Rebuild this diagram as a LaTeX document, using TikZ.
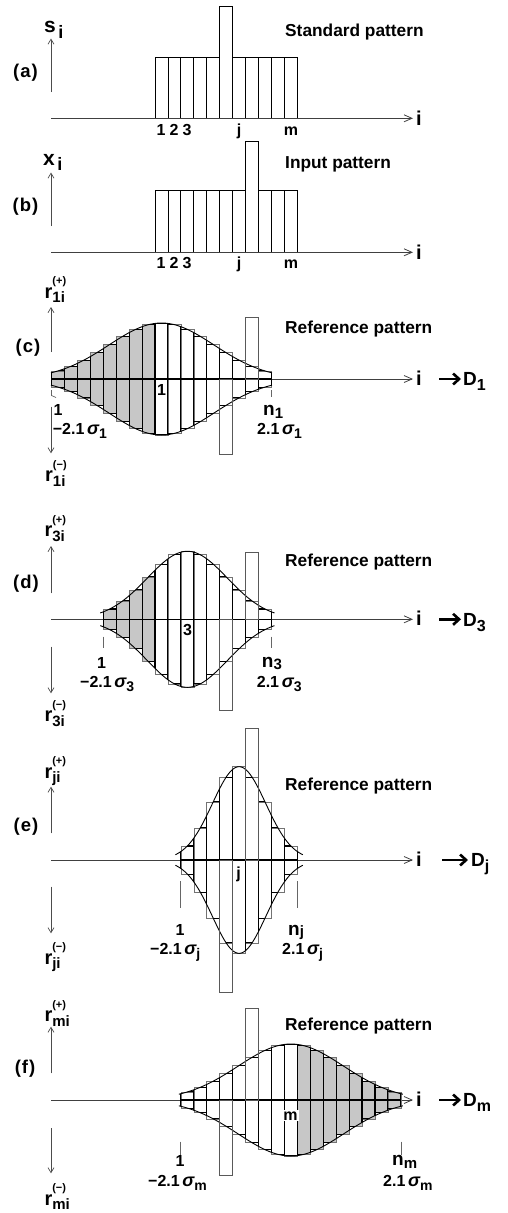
\documentclass[tikz,border=0pt]{standalone}
\usepackage{fontspec}
\setmainfont{Liberation Sans}
\usetikzlibrary{arrows.meta}
\newcommand\fs[1]{\fontsize{#1}{#1}\selectfont}
\def\bw{12.94}
\def\xone{155}
\newcommand\rlab[2]{{\fs{20}r}\raisebox{-4.5pt}{\fs{15}\rlap{\raisebox{18pt}{\fs{11}#2}}#1}}
\newcommand\sig[1]{{\fs{18}\itshape σ}\raisebox{-4pt}{\fs{14}#1}}
\tikzset{
  barline/.style={draw=black, line width=0.8pt},
  thinbar/.style={draw=black!55, line width=0.6pt},
  inbar/.style={draw=black, line width=1.1pt},
  env/.style={draw=black, line width=0.9pt},
  shadefill/.style={fill=black!22},
  tallbar/.style={draw=black!65, line width=0.7pt},
  axisline/.style={draw=black!75, line width=0.8pt, -{Straight Barb[length=8pt,width=7pt]}},
  varrow/.style={draw=black!70, line width=0.7pt, -{Straight Barb[length=5pt,width=6pt]}},
  tick/.style={draw=black!60, line width=0.7pt},
  bigarrow/.style={draw=black, line width=2.6pt, -{Straight Barb[length=6pt,width=11pt]}},
  txt/.style={inner sep=0pt, font=\bfseries},
  title/.style={txt, anchor=base west, font=\bfseries\fs{17.3}},
  plab/.style={txt, font=\bfseries\fs{18.5}},
  num/.style={txt, anchor=base, font=\bfseries\fs{16}},
  lbl/.style={txt, anchor=base west, font=\bfseries\fs{16}},
  axlab/.style={txt, anchor=base, font=\bfseries\fs{20}},
}
\newcommand\RefPanel[6]{%
  \pgfmathsetmacro\ya{#1}%
  \pgfmathsetmacro\xc{\xone+\bw*(#2-0.5)}%
  \pgfmathsetmacro\xl{\xc-(#3+0.5)*\bw-#6}%
  \pgfmathsetmacro\xr{\xc+(#3+0.5)*\bw+#6}%
  \def\HH{#4}\def\SS{#5}%
  \pgfmathtruncatemacro\kmin{#2-#3}%
  \pgfmathtruncatemacro\kmax{#2+#3}%
  \foreach \k in {\kmin,...,\kmax}{%
    \pgfmathsetmacro\xa{\xone+\bw*(\k-1)}%
    \pgfmathsetmacro\xb{\xa+\bw}%
    \pgfmathsetmacro\tq{(\xa+0.5*\bw-\xc)/\SS}%
    \pgfmathsetmacro\hh{\HH*exp(-0.5*(\tq)*(\tq))}%
    \ifnum\k<1 \fill[shadefill] (\xa,\ya-\hh) rectangle (\xb,\ya+\hh);\fi
    \ifnum\k>11 \fill[shadefill] (\xa,\ya-\hh) rectangle (\xb,\ya+\hh);\fi
    \draw[thinbar] (\xa,\ya) rectangle (\xb,\ya-\hh) (\xa,\ya) rectangle (\xb,\ya+\hh);
  }%
  \begin{scope}
    \clip plot[domain=\xl:\xr,samples=81] (\x,{\ya-\HH*exp(-0.5*((\x-\xc)/\SS)*((\x-\xc)/\SS))})
      -- plot[domain=\xr:\xl,samples=81] (\x,{\ya+\HH*exp(-0.5*((\x-\xc)/\SS)*((\x-\xc)/\SS))}) -- cycle;
    \foreach \k in {\kmin,...,\kmax}{%
      \pgfmathsetmacro\xa{\xone+\bw*(\k-1)}%
      \pgfmathsetmacro\xb{\xa+\bw}%
      \pgfmathsetmacro\tq{(\xa+0.5*\bw-\xc)/\SS}%
      \pgfmathsetmacro\hh{\HH*exp(-0.5*(\tq)*(\tq))}%
      \draw[inbar] (\xa,\ya) rectangle (\xb,\ya-\hh) (\xa,\ya) rectangle (\xb,\ya+\hh);
    }%
  \end{scope}
  \draw[env] plot[domain=\xl:\xr,samples=81] (\x,{\ya-\HH*exp(-0.5*((\x-\xc)/\SS)*((\x-\xc)/\SS))});
  \draw[env] plot[domain=\xl:\xr,samples=81] (\x,{\ya+\HH*exp(-0.5*((\x-\xc)/\SS)*((\x-\xc)/\SS))});
}
\begin{document}
\begin{tikzpicture}[x=1pt,y=-1pt]
\useasboundingbox (0,0) rectangle (507,1213);
% ---------------- (a)
\coordinate (a-v0) at (51,92); \coordinate (a-v1) at (51,38.5);
\draw[varrow] (a-v0) -- (a-v1);
\node[txt,anchor=base west] (a-s) at (44,32.7) {{\fs{21}s}\raisebox{-5.5pt}{\fs{18}\kern2.5pt i}};
\node[plab] (a-lab) at (25.5,73) {(\kern1pt a\kern1pt)};
\node[title] (a-title) at (285,36) {Standard pattern};
\foreach \k in {1,...,11}{%
  \pgfmathsetmacro\xa{\xone+\bw*(\k-1)}%
  \pgfmathsetmacro\ytop{\k==6 ? 6.7 : 57.3}%
  \draw[barline] (\xa,118.3) rectangle ({\xa+\bw},\ytop);
}
\coordinate (a-o) at (51,118.3); \coordinate (a-e) at (413,118.3);
\draw[axisline] (a-o) -- (a-e);
\node[axlab] (a-i) at (419,125) {i};
\node[num] (a-n1) at (161,135) {1};
\node[num] (a-n2) at (174,135) {2};
\node[num] (a-n3) at (187,135) {3};
\node[num] (a-nj) at (239,135) {j};
\node[num] (a-nm) at (291,135) {m};
% ---------------- (b)
\coordinate (b-v0) at (51,226); \coordinate (b-v1) at (51,172.5);
\draw[varrow] (b-v0) -- (b-v1);
\node[txt,anchor=base west] (b-x) at (43,165) {{\fs{21}x}\raisebox{-5.5pt}{\fs{18}\kern2.5pt i}};
\node[plab] (b-lab) at (25.5,206.7) {(\kern1pt b\kern1pt)};
\node[title] (b-title) at (285,168.3) {Input pattern};
\foreach \k in {1,...,11}{%
  \pgfmathsetmacro\xa{\xone+\bw*(\k-1)}%
  \pgfmathsetmacro\ytop{\k==8 ? 141 : 190.7}%
  \draw[barline] (\xa,252.3) rectangle ({\xa+\bw},\ytop);
}
\coordinate (b-o) at (51,252.3); \coordinate (b-e) at (413,252.3);
\draw[axisline] (b-o) -- (b-e);
\node[axlab] (b-i) at (419,259) {i};
\node[num] (b-n1) at (161,268.3) {1};
\node[num] (b-n2) at (174,268.3) {2};
\node[num] (b-n3) at (187,268.3) {3};
\node[num] (b-nj) at (239,268.3) {j};
\node[num] (b-nm) at (291,268.3) {m};
% ---------------- (c)
\coordinate (c-o) at (51,379); \coordinate (c-e) at (413,379);
\draw[axisline] (c-o) -- (c-e);
\RefPanel{379}{1}{8}{56}{52.6}{0.5}
\draw[tallbar] ({\xone+\bw*7},379) rectangle ({\xone+\bw*8},317.3);
\draw[tallbar] ({\xone+\bw*5},379) rectangle ({\xone+\bw*6},454.3);
\node[axlab] (c-i) at (419,385.5) {i};
\coordinate (c-a0) at (439,379); \coordinate (c-a1) at (461,379);
\draw[bigarrow] (c-a0) -- (c-a1);
\node[txt,anchor=base west] (c-D) at (463,385.7) {{\fs{19}D}\raisebox{-5pt}{\fs{16}1}};
\node[plab] (c-lab) at (28,348) {(\kern1pt c\kern1pt)};
\coordinate (c-u0) at (51,352); \coordinate (c-u1) at (51,307);
\draw[varrow] (c-u0) -- (c-u1);
\coordinate (c-d0) at (51,406.7); \coordinate (c-d1) at (51,453.3);
\draw[varrow] (c-d0) -- (c-d1);
\node[txt,anchor=base west] (c-rp) at (44.5,298) {\rlab{1i}{(+)}};
\node[txt,anchor=base west] (c-rm) at (45,481.7) {\rlab{1i}{(−)}};
\node[title] (c-title) at (285,333) {Reference pattern};
\node[num] (c-c) at (161.5,395) {1};
\coordinate (c-t0) at (51.5,390); \coordinate (c-t1) at (51.5,395.5); \coordinate (c-t2) at (56,397.5);
\draw[tick] (c-t0) -- (c-t1) -- (c-t2);
\coordinate (c-t3) at (271.7,390); \coordinate (c-t4) at (271.7,396.7);
\draw[tick] (c-t3) -- (c-t4);
\node[num] (c-1) at (58,415) {1};
\node[lbl] (c-sl) at (52.7,434) {−2.1\,\sig{1}};
\node[txt,anchor=base west] (c-n) at (263,415.5) {{\fs{19}n}\raisebox{-2.5pt}{\fs{15}1}};
\node[lbl] (c-sr) at (257,434) {2.1\,\sig{1}};
% ---------------- (d)
\coordinate (d-o) at (51,619.3); \coordinate (d-e) at (413,619.3);
\draw[axisline] (d-o) -- (d-e);
\RefPanel{619.3}{3}{6}{68}{40}{3}
\draw[tallbar] ({\xone+\bw*7},619.3) rectangle ({\xone+\bw*8},552.7);
\draw[tallbar] ({\xone+\bw*5},619.3) rectangle ({\xone+\bw*6},710.7);
\node[axlab] (d-i) at (419,625.8) {i};
\coordinate (d-a0) at (439,619.3); \coordinate (d-a1) at (461,619.3);
\draw[bigarrow] (d-a0) -- (d-a1);
\node[txt,anchor=base west] (d-D) at (463,626) {{\fs{19}D}\raisebox{-5pt}{\fs{16}3}};
\node[plab] (d-lab) at (26,583.3) {(\kern1pt d\kern1pt)};
\coordinate (d-u0) at (51,593.3); \coordinate (d-u1) at (51,546);
\draw[varrow] (d-u0) -- (d-u1);
\coordinate (d-d0) at (51,646.7); \coordinate (d-d1) at (51,693.3);
\draw[varrow] (d-d0) -- (d-d1);
\node[txt,anchor=base west] (d-rp) at (44.3,536.7) {\rlab{3i}{(+)}};
\node[txt,anchor=base west] (d-rm) at (44.3,721.7) {\rlab{3i}{(−)}};
\node[title] (d-title) at (285,566.7) {Reference pattern};
\node[num] (d-c) at (187.5,635) {3};
\coordinate (d-t0) at (103.3,636.7); \coordinate (d-t1) at (103.3,648);
\draw[tick] (d-t0) -- (d-t1);
\coordinate (d-t2) at (271.7,636.7); \coordinate (d-t3) at (271.7,648);
\draw[tick] (d-t2) -- (d-t3);
\node[num] (d-1) at (101.5,668) {1};
\node[lbl] (d-sl) at (80,687.5) {−2.1\,\sig{3}};
\node[txt,anchor=base west] (d-n) at (261.7,667) {{\fs{19}n}\raisebox{-2.5pt}{\fs{15}3}};
\node[lbl] (d-sr) at (256.7,687.5) {2.1\,\sig{3}};
% ---------------- (e)
\coordinate (e-o) at (51,860); \coordinate (e-e) at (413,860);
\draw[axisline] (e-o) -- (e-e);
\RefPanel{860}{7}{4}{93.3}{26.6}{5.5}
\draw[tallbar] ({\xone+\bw*7},860) rectangle ({\xone+\bw*8},728.3);
\draw[tallbar] ({\xone+\bw*5},860) rectangle ({\xone+\bw*6},992);
\node[axlab] (e-i) at (419,866.5) {i};
\coordinate (e-a0) at (442,860); \coordinate (e-a1) at (468,860);
\draw[bigarrow] (e-a0) -- (e-a1);
\node[txt,anchor=base west] (e-D) at (471,866.7) {{\fs{19}D}\raisebox{-5pt}{\fs{16}j}};
\node[plab] (e-lab) at (26,826.7) {(\kern1pt e\kern1pt)};
\coordinate (e-u0) at (51,833.3); \coordinate (e-u1) at (51,786.7);
\draw[varrow] (e-u0) -- (e-u1);
\coordinate (e-d0) at (51,886.7); \coordinate (e-d1) at (51,933.3);
\draw[varrow] (e-d0) -- (e-d1);
\node[txt,anchor=base west] (e-rp) at (44.3,778) {\rlab{ji}{(+)}};
\node[txt,anchor=base west] (e-rm) at (44.3,964) {\rlab{ji}{(−)}};
\node[title] (e-title) at (285,790) {Reference pattern};
\node[num] (e-c) at (238.5,878) {j};
\coordinate (e-t0) at (180.7,881); \coordinate (e-t1) at (180.7,908);
\draw[tick] (e-t0) -- (e-t1);
\coordinate (e-t2) at (297.7,881); \coordinate (e-t3) at (297.7,908);
\draw[tick] (e-t2) -- (e-t3);
\node[num] (e-1) at (180,935.5) {1};
\node[lbl] (e-sl) at (150,954.5) {−2.1\,\sig{j}};
\node[txt,anchor=base west] (e-n) at (288,935) {{\fs{19}n}\raisebox{-1.5pt}{\fs{15}j}};
\node[lbl] (e-sr) at (282,954.5) {2.1\,\sig{j}};
% ---------------- (f)
\coordinate (f-o) at (51,1100); \coordinate (f-e) at (413,1100);
\draw[axisline] (f-o) -- (f-e);
\RefPanel{1100}{11}{8}{56}{52.6}{2}
\draw[tallbar] ({\xone+\bw*7},1100) rectangle ({\xone+\bw*8},1008.3);
\draw[tallbar] ({\xone+\bw*5},1100) rectangle ({\xone+\bw*6},1175);
\node[axlab] (f-i) at (419,1106.5) {i};
\coordinate (f-a0) at (439,1100); \coordinate (f-a1) at (461,1100);
\draw[bigarrow] (f-a0) -- (f-a1);
\node[txt,anchor=base west] (f-D) at (463,1106.7) {{\fs{19}D}\raisebox{-5pt}{\fs{16}m}};
\node[plab] (f-lab) at (25,1068.3) {(\kern1pt f\kern1pt)};
\coordinate (f-u0) at (51,1073.3); \coordinate (f-u1) at (51,1026.7);
\draw[varrow] (f-u0) -- (f-u1);
\coordinate (f-d0) at (51,1128.3); \coordinate (f-d1) at (51,1173.3);
\draw[varrow] (f-d0) -- (f-d1);
\node[txt,anchor=base west] (f-rp) at (44.3,1021.7) {\rlab{mi}{(+)}};
\node[txt,anchor=base west] (f-rm) at (44.3,1205) {\rlab{mi}{(−)}};
\node[title] (f-title) at (285,1030) {Reference pattern};
\node[num,fill=white,inner sep=1pt] (f-c) at (290.5,1120) {m};
\coordinate (f-t0) at (180.7,1141.7); \coordinate (f-t1) at (180.7,1155);
\draw[tick] (f-t0) -- (f-t1);
\coordinate (f-t2) at (400.9,1141.7); \coordinate (f-t3) at (400.9,1155);
\draw[tick] (f-t2) -- (f-t3);
\node[num] (f-1) at (180,1166) {1};
\node[lbl] (f-sl) at (148,1186) {−2.1\,\sig{m}};
\node[txt,anchor=base west] (f-n) at (392,1165.5) {{\fs{19}n}\raisebox{-2.5pt}{\fs{15}m}};
\node[lbl] (f-sr) at (383,1186) {2.1\,\sig{m}};
\end{tikzpicture}
\end{document}
